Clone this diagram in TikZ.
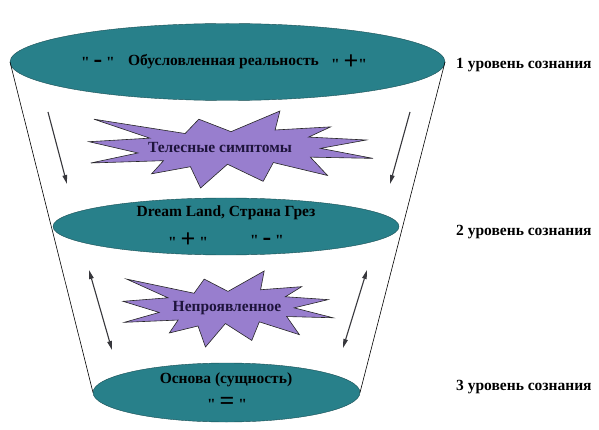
\documentclass[tikz,border=0pt]{standalone}
\usepackage{fontspec}
\setmainfont{Liberation Serif}[Ligatures=TeXOff]
\usetikzlibrary{shapes.geometric,arrows.meta}

\definecolor{azulpetroleo}{RGB}{40,128,138}
\definecolor{lilas}{RGB}{152,126,206}
\definecolor{cinzaescuro}{RGB}{55,55,60}
\definecolor{tinta}{RGB}{30,20,60}

\newcommand{\sinal}[1]{{\fontsize{26}{26}\selectfont #1}}

\tikzset{
  nivel/.style={ellipse, draw=azulpetroleo!60!black, fill=azulpetroleo, inner sep=0pt, outer sep=0pt},
  rotulo/.style={font=\fontsize{15.5}{18}\selectfont\bfseries, inner sep=1pt},
  seta/.style={cinzaescuro, line width=1.1pt, -{Triangle[length=9pt,width=4.5pt]}},
  seta dupla/.style={cinzaescuro, line width=1.1pt, {Triangle[length=9pt,width=4.5pt]}-{Triangle[length=9pt,width=4.5pt]}},
  explosao/.pic={
    \draw[fill=lilas, draw=black!85, line width=0.6pt]
      (50,26.85) -- (67.23,0) -- (65.53,24.65) -- (85.09,20.63) -- (77.32,33.87)
      -- (97.67,37.67) -- (81.51,48.50) -- (100,61.53) -- (77.95,59.92) -- (84.00,83.77)
      -- (64.91,66.93) -- (61.33,91.37) -- (48.76,69.14) -- (39.28,100) -- (35.72,72.35)
      -- (22.05,81.56) -- (26.24,64.52) -- (0.63,67.53) -- (17.23,54.51) -- (0,39.88)
      -- (21.42,35.26) -- (1.71,10.63) -- (33.85,29.26) -- (38.67,10.63) -- cycle;
  }
}

\begin{document}
\begin{tikzpicture}[x=1pt, y=-1pt]
  \useasboundingbox (0,0) rectangle (599,430);

  % Níveis (elipses)
  \node[nivel, minimum width=435pt, minimum height=77pt] (nivel1) at (227.5,62) {};
  \node[nivel, minimum width=346pt, minimum height=57pt] (nivel2) at (226,226.5) {};
  \node[nivel, minimum width=267pt, minimum height=59pt] (nivel3) at (226.5,392.5) {};

  % Laterais do cone
  \draw[line width=0.6pt] (nivel1.west) -- (nivel3.west);
  \draw[line width=0.6pt] (nivel1.east) -- (nivel3.east);

  % Textos das elipses
  \node[rotulo] (menos1) at (98,62) {" \sinal{-} "};
  \node[rotulo] (realidade) at (223.5,62) {Обусловленная реальность};
  \node[rotulo] (mais1) at (349,62) {" \sinal{+}"};
  \node[rotulo] (sonho) at (226,213) {Dream Land, Страна Грез};
  \node[rotulo] (mais2) at (188,240) {" \sinal{+} "};
  \node[rotulo] (menos2) at (267,240) {" \sinal{-} "};
  \node[rotulo] (base) at (226,380) {Основа (сущность)};
  \node[rotulo] (igual) at (227,403) {" \sinal{=} "};

  % Explosões
  \pic[xscale=2.84, yscale=0.77] at (89,111) {explosao};
  \node[rotulo, text=tinta] (sintomas) at (220,148) {Телесные симптомы};
  \pic[xscale=2.10, yscale=0.76] at (123,271) {explosao};
  \node[rotulo, text=tinta] (oculto) at (227,308) {Непроявленное};

  % Setas
  \coordinate (sa1) at (48,112);  \coordinate (sb1) at (67,184);
  \coordinate (sa2) at (410,112); \coordinate (sb2) at (390,184);
  \coordinate (da1) at (89,270);  \coordinate (db1) at (112,350);
  \coordinate (da2) at (367,270); \coordinate (db2) at (343,348);
  \draw[seta] (sa1) -- (sb1);
  \draw[seta] (sa2) -- (sb2);
  \draw[seta dupla] (da1) -- (db1);
  \draw[seta dupla] (da2) -- (db2);

  % Níveis de consciência
  \node[rotulo, anchor=west] (consc1) at (455,65) {1 уровень сознания};
  \node[rotulo, anchor=west] (consc2) at (455,232) {2 уровень сознания};
  \node[rotulo, anchor=west] (consc3) at (455,387) {3 уровень сознания};
\end{tikzpicture}
\end{document}
